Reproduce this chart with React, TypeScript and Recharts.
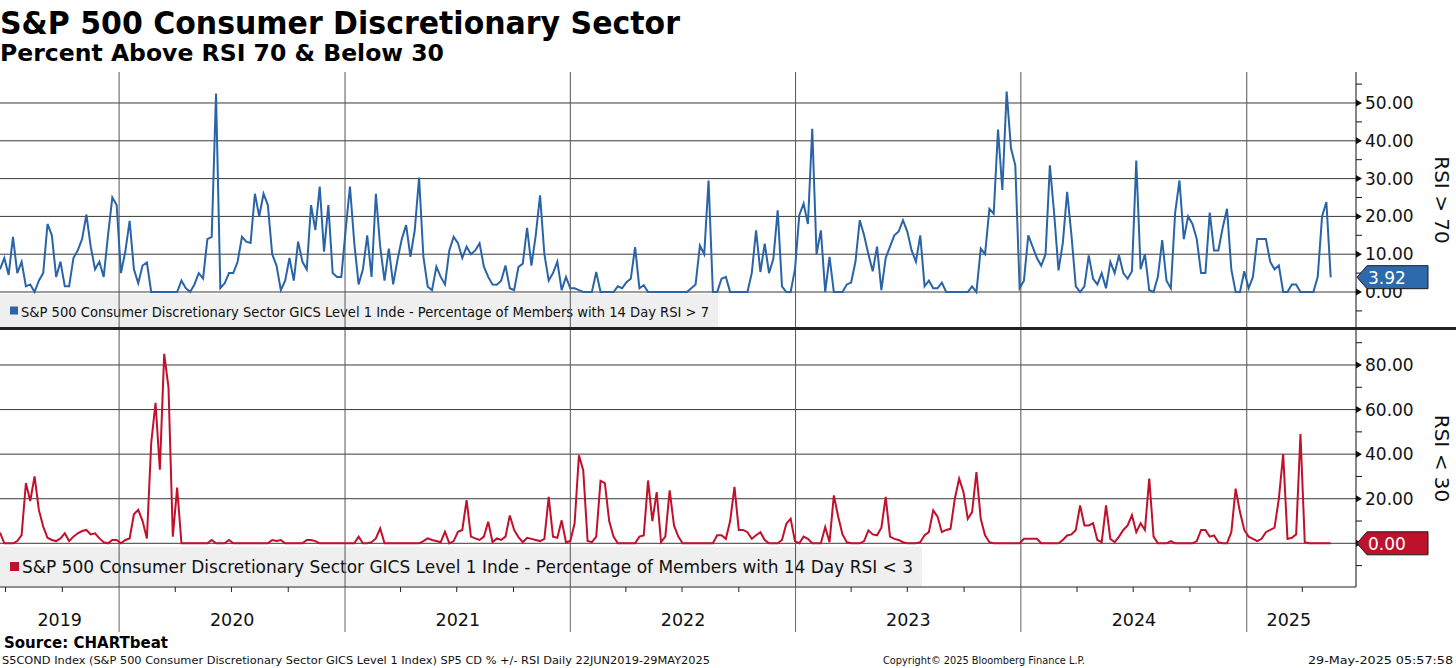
import React from "react";
import { LineChart, Line, XAxis, YAxis, ReferenceLine } from "recharts";

// weekly samples, starting 22 Jun 2019
const START = "2019-06-22";
const STEP_DAYS = 7;

// % of members with 14 day RSI > 70
const rsiAbove70 = [
  6, 9, 4.5, 14.6, 5, 8, 1.5, 2, 0, 3,
  5, 18, 15, 4, 8, 1.5, 1.5, 9, 11, 14,
  20.5, 12, 6, 8, 4, 15, 25, 23, 5, 10.7,
  18.8, 6, 2.3, 7, 7.8, 0, 0, 0, 0, 0,
  0, 0, 3, 1, 0, 2, 5, 3.6, 14, 14.6,
  52.5, 1, 2.3, 5, 5, 8, 14.6, 13.3, 13, 26,
  20, 26, 23, 10, 7, 0.5, 3, 9, 3, 13.3,
  8, 6, 23, 16.4, 27.9, 10.7, 23, 5, 4, 4,
  16.4, 27.9, 13, 2, 6, 15, 4, 26, 12, 3,
  11.5, 2, 8.5, 14, 17.7, 9.3, 16.4, 30.3, 9.3, 1.4,
  0.5, 6.7, 4, 2, 11, 14.6, 12.9, 9, 12, 10,
  11, 12.9, 6.7, 4, 2, 1.9, 3, 7, 1, 0.5,
  6.6, 7.5, 17, 7, 15, 25.6, 10, 3, 5, 8,
  0.5, 4, 1, 1, 0.5, 0, 0, 0, 5.3, 0,
  0, 0, 0, 1.5, 1, 2.6, 3.5, 11.9, 1, 1.8,
  0, 0, 0, 0, 0, 0, 0, 0, 0, 0,
  1, 2, 12.3, 10, 29.5, 0, 0, 3.5, 4, 0,
  0, 0, 0, 0, 5, 16.3, 5.3, 12.8, 5, 8.8,
  21.6, 1.5, 0, 0, 6, 20.3, 23.4, 18, 43.2, 10,
  16.3, 0, 9.3, 0, 0, 0, 2, 2.5, 8, 19,
  15, 10, 5.5, 12, 0.5, 9, 12, 15, 16, 19,
  16, 11, 8, 15, 1.5, 3, 1, 1, 2.5, 0,
  0, 0, 0, 0, 0, 1.5, 0, 11.5, 10, 22,
  20.7, 43, 27, 53, 38, 33.5, 1, 3, 15, 12,
  9, 7, 10, 33.5, 20.7, 5.7, 13, 26.5, 15, 1.5,
  0, 1.5, 9.7, 3.5, 2, 5, 1, 8, 5, 9.7,
  5, 3.5, 5.5, 34.8, 6, 10, 0.5, 0, 4, 13.7,
  3, 1, 21, 29.5, 14, 20, 18, 14, 5, 5,
  21, 11, 11, 17, 22, 6, 0, 0, 5.5, 1,
  4, 14, 14, 14, 8, 6, 7, 0, 0, 2,
  2, 0, 0, 0, 0, 4, 20, 23.8, 3.92,
];

// % of members with 14 day RSI < 30
const rsiBelow30 = [
  4.8, 0, 0, 0, 1, 3.7, 27, 19, 30, 15,
  7.5, 2.5, 1.5, 1, 2.2, 4.5, 1, 3, 4.5, 5.5,
  6, 4, 4.5, 2.2, 0.5, 0, 1.5, 1.5, 0, 1.5,
  2.2, 13, 15, 10, 2.2, 45, 63, 33, 85, 70,
  3, 25, 0, 0, 0, 0, 0, 0, 0, 1.5,
  0, 0, 0, 1.5, 0, 0, 0, 0, 0, 0,
  0, 0, 0, 1.5, 1, 1.5, 0, 0, 0, 0,
  0, 1.5, 1.5, 1, 0, 0, 0, 0, 0, 0,
  0, 0, 0, 3, 0, 0, 0.5, 2.2, 6.7, 0,
  0, 0, 0, 0, 0, 0, 0, 0, 1, 2.2,
  1.5, 1, 0.5, 5.2, 0, 1, 5.2, 6, 19.4, 3,
  2.2, 1.5, 3, 9.7, 0.5, 2.2, 1.5, 3, 12.5, 6,
  2.8, 0.5, 2.5, 2, 1.5, 1, 2, 20.8, 3, 2.5,
  10.3, 0.5, 1, 9, 39.5, 32.7, 1, 0.5, 3, 28,
  27, 10, 3, 0, 0, 0, 0, 0, 3, 3.5,
  28.2, 10, 23, 0.5, 3, 23.8, 8, 3, 0, 0,
  0, 0, 0, 0, 0, 0, 3.6, 3.6, 2, 10,
  25.3, 6, 6, 5, 2, 3.6, 5, 1.5, 0, 0,
  0, 1.5, 8.8, 11, 1, 0, 3, 2, 0, 0,
  0, 7.3, 0.5, 21.5, 12, 4, 0.5, 0, 0, 0,
  1, 5.8, 4, 3.6, 7, 20.8, 3, 2, 1.5, 0.5,
  0, 0, 0, 0.5, 3.6, 5, 14.8, 12, 5, 6,
  6.5, 20, 29, 23, 11, 14, 32, 11, 3.6, 0.5,
  0, 0, 0, 0, 0, 0, 0, 2, 2, 2,
  2, 0, 0, 0, 0, 0, 1.5, 3.5, 4, 6,
  17, 8, 8, 9, 1.5, 0.5, 17, 2, 0.5, 3,
  6, 8, 12.6, 5, 9, 6, 29, 3, 0, 0,
  0, 1, 0, 0, 0, 0, 0, 1, 6, 6,
  3, 3.5, 0.5, 0, 0, 5, 24.5, 14, 6, 3,
  2, 1, 2, 5, 6, 7, 20, 40, 2, 2.5,
  4, 49, 0.5, 0, 0, 0, 0, 0, 0,
];

const yearLabels = ["2019", "2020", "2021", "2022", "2023", "2024", "2025"];
const topMajor = [0, 10, 20, 30, 40, 50];
const topMinor = [-5, 5, 15, 25, 35, 45, 55];
const bottomMajor = [0, 20, 40, 60, 80];
const bottomMinor = [-10, 10, 30, 50, 70, 90];

const LEGEND_TOP = "S&P 500 Consumer Discretionary Sector GICS Level 1 Inde - Percentage of Members with 14 Day RSI > 7";
const LEGEND_BOTTOM = "S&P 500 Consumer Discretionary Sector GICS Level 1 Inde - Percentage of Members with 14 Day RSI < 3";

const BLUE = "#2a64a8";
const RED = "#c2102c";
const FONT = "DejaVu Sans, Verdana, sans-serif";

const DAY_MS = 86400000;
const t0 = Date.parse(START);
const dayOf = (iso: string) => Math.round((Date.parse(iso) - t0) / DAY_MS);

const data = rsiAbove70.map((v, i) => ({ day: i * STEP_DAYS, top: v, bottom: rsiBelow30[i] }));
const lastDay = data[data.length - 1].day;
const X_DOMAIN: [number, number] = [0, 2197];

const yearStarts = yearLabels.slice(1).map((y) => dayOf(`${y}-01-01`));
const quarterTicks: number[] = [];
yearLabels.forEach((y) =>
  ["01", "04", "07", "10"].forEach((m) => {
    const d = dayOf(`${y}-${m}-01`);
    if (d > 0 && d < X_DOMAIN[1]) quarterTicks.push(d);
  })
);
const labelByDay = new Map<number, string>();
yearLabels.forEach((y) => {
  const s = Math.max(0, dayOf(`${y}-01-01`));
  const e = Math.min(lastDay, dayOf(`${Number(y) + 1}-01-01`));
  labelByDay.set((s + e) / 2 + 0.25, y);
});
const xTicks = [...quarterTicks, ...labelByDay.keys()].sort((a, b) => a - b);

function XTick(props: any) {
  const { x, y, payload } = props;
  const v = payload.value;
  const label = labelByDay.get(v);
  if (label) {
    return (
      <text x={x} y={y + 33} textAnchor="middle" dominantBaseline="central" fontSize={17.5} fill="#111" fontFamily={FONT}>
        {label}
      </text>
    );
  }
  const isYear = yearStarts.includes(v);
  return <line x1={x} x2={x} y1={y} y2={y + (isYear ? 45 : 5)} stroke={isYear ? "#666" : "#222"} strokeWidth={1} />;
}

// the last tick in the list is the current value: drawn last, as a badge over the labels
const makeYTick = (majors: number[], ticks: number[], color: string) => (props: any) => {
  const { x, y, payload, index } = props;
  const v = payload.value;
  const last = ticks[ticks.length - 1];
  if (index === ticks.length - 1) {
    return (
      <g>
        <path
          d={`M${x + 1},${y} L${x + 11},${y - 11.5} L${x + 72},${y - 11.5} L${x + 72},${y + 11.5} L${x + 11},${y + 11.5} Z`}
          fill={color}
          stroke="#1b1b1b"
          strokeWidth={1}
        />
        <text x={x + 12} y={y + 1} dominantBaseline="central" fontSize={17} fill="#fff" fontFamily={FONT}>
          {v.toFixed(2)}
        </text>
      </g>
    );
  }
  if (majors.includes(v)) {
    return (
      <g>
        <path d={`M${x},${y - 3.5} L${x + 6},${y} L${x},${y + 3.5} Z`} fill="#111" />
        {v !== last && (
          <text x={x + 9} y={y} dominantBaseline="central" fontSize={17} fill="#111" fontFamily={FONT}>
            {v.toFixed(2)}
          </text>
        )}
      </g>
    );
  }
  return <line x1={x} x2={x + 6} y1={y} y2={y} stroke="#111" />;
};

const axisTitle = (text: string) => (props: any) => {
  const vb = props.viewBox;
  const cx = vb.x + 86;
  const cy = vb.y + vb.height / 2;
  return (
    <text x={cx} y={cy} transform={`rotate(90 ${cx} ${cy})`} textAnchor="middle" dominantBaseline="central" fontSize={20} fill="#111" fontFamily={FONT}>
      {text}
    </text>
  );
};

const lastTop = rsiAbove70[rsiAbove70.length - 1];
const lastBottom = rsiBelow30[rsiBelow30.length - 1];
const topTicks = [...[...topMinor, ...topMajor].sort((a, b) => a - b), lastTop];
const bottomTicks = [...[...bottomMinor, ...bottomMajor].sort((a, b) => a - b), lastBottom];

export default function App() {
  return (
    <div style={{ position: "absolute", left: 0, top: 0, width: 1456, height: 668, background: "#fff", overflow: "hidden", fontFamily: FONT }}>
      {/* legend boxes sit under the charts so the year lines cross them */}
      <svg width={1456} height={668} style={{ position: "absolute", left: 0, top: 0, zIndex: 0 }}>
        <rect x={0} y={294} width={718} height={33} fill="#efefef" />
        <rect x={10} y={306.5} width={8} height={8} fill={BLUE} />
        <text x={21} y={311.5} dominantBaseline="central" fontSize={14.5} fill="#111" fontFamily={FONT} textLength={688} lengthAdjust="spacingAndGlyphs">
          {LEGEND_TOP}
        </text>
        <rect x={0} y={547} width={922} height={39} fill="#efefef" />
        <rect x={10} y={562} width={9} height={9} fill={RED} />
        <text x={22} y={567} dominantBaseline="central" fontSize={17.5} fill="#111" fontFamily={FONT} textLength={891} lengthAdjust="spacingAndGlyphs">
          {LEGEND_BOTTOM}
        </text>
      </svg>

      <div style={{ position: "absolute", left: 0, top: 72, zIndex: 1 }}>
        <LineChart width={1456} height={256} data={data} margin={{ top: 0, right: 0, bottom: 0, left: 0 }}>
          <XAxis dataKey="day" type="number" domain={X_DOMAIN} allowDataOverflow hide />
          <YAxis
            orientation="right"
            width={100}
            type="number"
            domain={[-9.52, 58.2]}
            allowDataOverflow
            ticks={topTicks}
            interval={0}
            tick={makeYTick(topMajor, topTicks, "#2c69ad")}
            tickLine={false}
            tickSize={0}
            tickMargin={0}
            axisLine={{ stroke: "#111" }}
            label={axisTitle("RSI > 70")}
          />
          {topMajor.map((v) => (
            <ReferenceLine key={`g${v}`} y={v} stroke="#3a3a3a" strokeWidth={1} />
          ))}
          {yearStarts.map((d) => (
            <ReferenceLine key={`v${d}`} x={d} stroke="#555" strokeWidth={1} />
          ))}
          <Line type="linear" dataKey="top" stroke={BLUE} strokeWidth={2} dot={false} isAnimationActive={false} />
        </LineChart>
      </div>

      <div style={{ position: "absolute", left: 0, top: 327, width: 1456, height: 3, background: "#222", zIndex: 2 }} />

      <div style={{ position: "absolute", left: 0, top: 330, zIndex: 1 }}>
        <LineChart width={1456} height={302} data={data} margin={{ top: 0, right: 0, bottom: 0, left: 0 }}>
          <XAxis
            dataKey="day"
            type="number"
            domain={X_DOMAIN}
            allowDataOverflow
            ticks={xTicks}
            interval={0}
            height={45}
            tick={XTick}
            tickLine={false}
            tickSize={0}
            tickMargin={0}
            axisLine={{ stroke: "#222" }}
          />
          <YAxis
            orientation="right"
            width={100}
            type="number"
            domain={[-19.6, 95.7]}
            allowDataOverflow
            ticks={bottomTicks}
            interval={0}
            tick={makeYTick(bottomMajor, bottomTicks, "#c0112c")}
            tickLine={false}
            tickSize={0}
            tickMargin={0}
            axisLine={{ stroke: "#111" }}
            label={axisTitle("RSI < 30")}
          />
          {bottomMajor.map((v) => (
            <ReferenceLine key={`g${v}`} y={v} stroke="#3a3a3a" strokeWidth={1} />
          ))}
          {yearStarts.map((d) => (
            <ReferenceLine key={`v${d}`} x={d} stroke="#555" strokeWidth={1} />
          ))}
          <Line type="linear" dataKey="bottom" stroke={RED} strokeWidth={2} dot={false} isAnimationActive={false} />
        </LineChart>
      </div>

      <svg width={1456} height={668} style={{ position: "absolute", left: 0, top: 0, zIndex: 3, pointerEvents: "none" }}>
        <text x={0} y={34} fontSize={32} fontWeight="bold" fill="#000" fontFamily={FONT} textLength={680} lengthAdjust="spacingAndGlyphs">
          S&amp;P 500 Consumer Discretionary Sector
        </text>
        <text x={0} y={61} fontSize={23} fontWeight="bold" fill="#000" fontFamily={FONT} textLength={444} lengthAdjust="spacingAndGlyphs">
          Percent Above RSI 70 &amp; Below 30
        </text>
        <text x={4} y={648} fontSize={15} fontWeight="bold" fill="#000" fontFamily={FONT} textLength={164} lengthAdjust="spacingAndGlyphs">
          Source: CHARTbeat
        </text>
        <text x={2} y={664} fontSize={11} fill="#111" fontFamily={FONT} textLength={708} lengthAdjust="spacingAndGlyphs">
          S5COND Index (S&amp;P 500 Consumer Discretionary Sector GICS Level 1 Index) SP5 CD % +/- RSI  Daily 22JUN2019-29MAY2025
        </text>
        <text x={883} y={664} fontSize={11} fill="#111" fontFamily={FONT} textLength={202} lengthAdjust="spacingAndGlyphs">
          Copyright© 2025 Bloomberg Finance L.P.
        </text>
        <text x={1308} y={664} fontSize={11} fill="#111" fontFamily={FONT} textLength={145} lengthAdjust="spacingAndGlyphs">
          29-May-2025 05:57:58
        </text>
      </svg>
    </div>
  );
}
